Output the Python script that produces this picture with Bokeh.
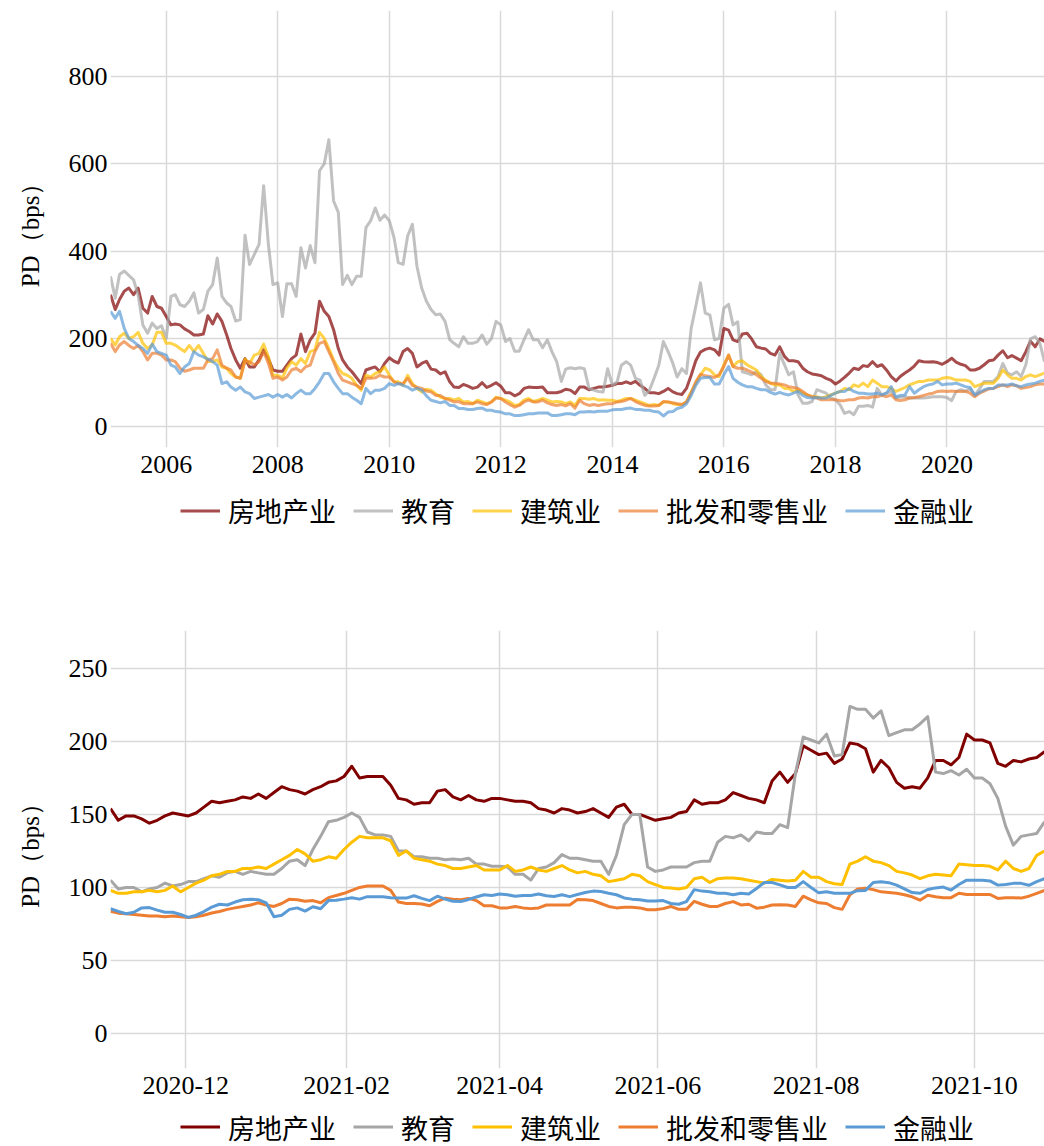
import numpy as np
import pandas as pd
from bokeh.plotting import figure
from bokeh.models import (ColumnDataSource, FixedTicker, DatetimeTickFormatter,
                          Legend, LegendItem, Range1d)
from bokeh.layouts import column
from bokeh.embed import file_html
from bokeh.resources import INLINE

# ---------------- data ----------------
names = ["房地产业", "教育", "建筑业", "批发和零售业", "金融业"]
colors = ["#800000", "#a6a6a6", "#ffc000", "#ed7d31", "#5b9bd5"]

# Top panel: monthly, 2005-01 .. 2021-10
top_start = "2005-01-01"
top_months = 202

real_estate_m = [
    301, 267, 290, 309, 316, 301, 316, 270, 259, 297, 274, 270,
    251, 232, 234, 232, 223, 217, 209, 209, 211, 253, 234, 257,
    240, 209, 178, 152, 133, 155, 136, 136, 152, 175, 155, 129,
    126, 126, 140, 155, 163, 211, 171, 198, 213, 286, 263, 251,
    221, 178, 152, 136, 125, 111, 98, 129, 133, 136, 125, 144,
    157, 149, 145, 171, 178, 167, 136, 144, 149, 131, 129, 120,
    125, 102, 90, 89, 96, 92, 87, 90, 100, 89, 94, 100,
    92, 77, 77, 70, 75, 87, 90, 89, 89, 90, 77, 77,
    77, 80, 85, 83, 75, 90, 90, 84, 87, 90, 90, 92,
    94, 98, 98, 102, 98, 103, 94, 87, 77, 77, 75, 80,
    87, 79, 75, 73, 87, 117, 150, 170, 176, 179, 175, 163,
    224, 220, 198, 194, 211, 213, 200, 182, 179, 177, 167, 163,
    182, 160, 150, 150, 148, 133, 125, 120, 118, 116, 110, 106,
    97, 104, 112, 122, 133, 130, 139, 137, 148, 137, 141, 129,
    114, 104, 114, 122, 129, 138, 150, 148, 147, 148, 146, 142,
    148, 156, 147, 142, 139, 129, 129, 133, 141, 150, 152, 163,
    173, 157, 162, 156, 150, 171, 195, 182, 200, 194]

education_m = [
    343, 293, 347, 355, 345, 335, 300, 232, 213, 236, 224, 230,
    201, 297, 301, 278, 274, 286, 305, 259, 267, 309, 324, 385,
    297, 282, 274, 241, 244, 437, 370, 393, 416, 550, 416, 324,
    328, 251, 326, 326, 297, 408, 362, 413, 374, 584, 600, 655,
    515, 489, 324, 345, 324, 343, 343, 454, 470, 499, 471, 483,
    470, 431, 374, 370, 435, 462, 366, 316, 286, 267, 255, 257,
    240, 198, 190, 182, 205, 190, 190, 194, 209, 188, 201, 240,
    232, 194, 201, 172, 172, 198, 221, 198, 198, 180, 198, 171,
    148, 103, 131, 134, 132, 134, 132, 87, 83, 80, 79, 132,
    94, 102, 140, 148, 140, 110, 106, 71, 83, 110, 140, 194,
    171, 144, 113, 132, 121, 224, 274, 328, 259, 255, 198, 201,
    270, 279, 232, 239, 125, 122, 118, 125, 118, 95, 84, 84,
    167, 141, 118, 125, 72, 53, 53, 57, 84, 80, 76, 65,
    61, 49, 30, 34, 27, 46, 46, 48, 44, 87, 72, 76,
    80, 65, 67, 68, 65, 65, 65, 65, 66, 68, 68, 68,
    66, 59, 80, 84, 81, 86, 71, 86, 103, 103, 103, 114,
    144, 122, 118, 125, 114, 141, 200, 205, 190, 148]

construction_m = [
    201, 186, 205, 213, 201, 205, 215, 190, 178, 186, 215, 215,
    190, 190, 186, 178, 171, 185, 171, 185, 167, 149, 148, 152,
    136, 133, 121, 113, 110, 154, 144, 163, 167, 188, 159, 117,
    117, 111, 133, 148, 140, 155, 144, 171, 175, 215, 201, 178,
    152, 133, 121, 117, 110, 94, 83, 117, 113, 121, 125, 136,
    117, 102, 102, 94, 117, 98, 87, 79, 85, 83, 75, 67,
    64, 64, 60, 64, 56, 57, 52, 60, 56, 52, 56, 67,
    64, 60, 56, 48, 50, 60, 64, 57, 60, 64, 60, 56,
    57, 56, 52, 56, 48, 64, 64, 62, 64, 60, 61, 60,
    60, 57, 60, 64, 64, 60, 56, 52, 48, 50, 48, 56,
    56, 52, 50, 50, 56, 79, 98, 118, 133, 129, 118, 114,
    141, 163, 137, 148, 150, 141, 135, 129, 114, 106, 99, 95,
    95, 87, 87, 80, 84, 76, 72, 68, 68, 65, 68, 72,
    76, 80, 87, 84, 95, 91, 99, 91, 106, 99, 91, 91,
    87, 80, 84, 89, 95, 99, 103, 103, 106, 106, 106, 110,
    112, 110, 106, 106, 106, 103, 91, 95, 99, 99, 99, 110,
    129, 118, 110, 110, 106, 114, 118, 114, 118, 122]

retail_m = [
    190, 171, 186, 194, 185, 178, 185, 171, 152, 167, 167, 163,
    152, 152, 148, 133, 126, 129, 133, 133, 133, 152, 155, 175,
    140, 133, 129, 113, 110, 149, 148, 141, 148, 171, 144, 110,
    113, 106, 113, 129, 133, 125, 136, 140, 171, 190, 194, 171,
    148, 121, 106, 102, 98, 94, 87, 110, 110, 111, 117, 113,
    113, 102, 98, 98, 110, 94, 90, 87, 81, 79, 71, 71,
    64, 60, 56, 57, 52, 52, 52, 56, 52, 50, 56, 65,
    64, 56, 50, 44, 48, 56, 60, 56, 56, 60, 54, 50,
    48, 50, 47, 52, 42, 60, 52, 48, 50, 48, 50, 52,
    52, 56, 57, 60, 64, 57, 52, 48, 47, 47, 48, 57,
    56, 54, 52, 50, 56, 77, 102, 119, 116, 114, 112, 118,
    137, 163, 137, 133, 133, 129, 124, 118, 110, 103, 99, 99,
    97, 95, 91, 89, 87, 80, 72, 68, 65, 61, 61, 61,
    61, 59, 59, 61, 61, 65, 66, 65, 68, 68, 71, 68,
    72, 61, 59, 61, 65, 66, 68, 71, 74, 76, 80, 81,
    80, 81, 80, 80, 80, 76, 68, 76, 81, 86, 87, 91,
    95, 91, 95, 93, 87, 89, 91, 95, 97, 97]

finance_m = [
    263, 247, 263, 224, 201, 194, 185, 178, 167, 188, 171, 167,
    163, 140, 136, 121, 136, 144, 171, 163, 159, 154, 148, 140,
    98, 102, 90, 83, 90, 79, 75, 64, 67, 70, 73, 67,
    73, 67, 73, 65, 75, 83, 75, 75, 87, 102, 121, 121,
    102, 87, 75, 75, 67, 60, 52, 87, 75, 83, 83, 87,
    98, 94, 98, 94, 90, 83, 87, 83, 70, 60, 57, 54,
    57, 48, 48, 41, 41, 39, 39, 41, 42, 37, 37, 34,
    33, 29, 29, 25, 25, 27, 29, 29, 31, 31, 31, 25,
    25, 27, 29, 29, 27, 33, 33, 34, 33, 35, 35, 35,
    38, 39, 39, 41, 42, 39, 39, 37, 37, 34, 33, 24,
    33, 34, 41, 44, 52, 71, 94, 110, 112, 112, 97, 97,
    118, 137, 110, 101, 95, 91, 91, 87, 84, 84, 78, 74,
    78, 74, 72, 76, 80, 71, 66, 65, 66, 65, 65, 71,
    76, 80, 80, 87, 80, 76, 76, 74, 74, 76, 72, 76,
    91, 67, 71, 72, 91, 76, 84, 91, 95, 97, 103, 95,
    97, 97, 99, 95, 91, 89, 72, 78, 84, 87, 87, 95,
    95, 95, 97, 93, 91, 95, 97, 99, 103, 106]

# Bottom panel: every 3 days from 2020-11-02 to 2021-10-28
bot_start = "2020-11-02"
bot_step_days = 3
bot_points = 121

real_estate_d = [
    154, 146, 149, 149, 147, 144, 146, 149, 151, 150,
    149, 151, 155, 159, 158, 159, 160, 162, 161, 164,
    161, 165, 169, 167, 166, 164, 167, 169, 172, 173,
    176, 183, 175, 176, 176, 176, 170, 161, 160, 157,
    158, 158, 166, 167, 162, 160, 163, 160, 159, 161,
    161, 160, 159, 159, 158, 154, 153, 151, 154, 153,
    151, 152, 154, 151, 148, 155, 157, 150, 150, 148,
    146, 147, 148, 151, 152, 160, 157, 158, 158, 160,
    165, 163, 161, 160, 158, 173, 179, 172, 178, 197,
    194, 191, 192, 185, 188, 199, 198, 195, 179, 187,
    182, 172, 168, 169, 168, 175, 187, 187, 184, 189,
    205, 201, 201, 199, 185, 183, 187, 186, 188, 189,
    193]

education_d = [
    105, 99, 100, 100, 97, 99, 100, 103, 101, 102,
    104, 104, 106, 108, 107, 110, 111, 109, 111, 110,
    109, 109, 113, 118, 119, 115, 126, 135, 145, 146,
    148, 151, 148, 138, 136, 136, 135, 125, 125, 121,
    121, 120, 120, 119, 119.5, 119, 120, 116, 116, 114.5,
    114.5, 114, 109, 109, 105, 113, 114, 117, 122.5, 120,
    120, 119, 118, 118, 109, 122, 143, 150, 150, 114,
    111, 112, 114, 114, 114, 117, 118, 118, 131, 135,
    134, 136, 132, 138, 137, 137, 143, 141, 178, 203,
    201, 199, 205, 190, 191, 224, 222, 222, 216, 221,
    204, 206, 208, 208, 212, 217, 179, 178, 180, 177,
    181, 175, 175, 171, 161, 142, 129, 135, 136, 137,
    145]

construction_d = [
    98, 96, 96, 97, 97, 98, 97, 98, 101, 97,
    100, 103, 105, 108, 109, 111, 111, 113, 113, 114,
    113, 116, 119, 122, 126, 123, 118, 119, 121, 120,
    126, 131, 135, 134, 134, 134, 132, 122, 125, 120,
    119, 118, 116, 115, 113, 113, 114, 115, 112, 112,
    112, 115, 111, 112, 114, 112, 111, 113, 115, 112,
    110, 111, 109, 108, 104, 105, 106, 109, 108, 104,
    102, 100, 99.6, 99, 100, 106, 107, 103.4, 106, 106.5,
    106.5, 106, 105, 104, 103, 105.5, 105, 104.5, 105, 111,
    107, 107, 104, 102.5, 102, 116, 118, 121, 118, 117,
    115, 111, 110, 108.5, 106, 108, 109, 108.5, 108, 116,
    115.5, 115, 115, 114.5, 112, 118, 113, 111, 113, 122,
    125]

retail_d = [
    83.6, 82.4, 82, 81.5, 81, 80.5, 80.5, 80, 80.5, 80,
    79.5, 80, 81, 82.5, 83.5, 85, 86, 87, 88, 89.5,
    88, 87, 89, 92, 91.6, 90.5, 91, 89.5, 93, 94.5,
    96, 98, 100, 101, 101, 101, 98, 90, 89, 89,
    88.7, 87.5, 90.5, 92.7, 92, 91.6, 92.5, 91, 87.5, 87.5,
    86, 86, 87, 86, 85.5, 86, 88, 88, 88, 88,
    91.8, 91.6, 91, 89, 87, 86, 86.5, 86.5, 86, 84.7,
    84.7, 85.5, 87, 85, 85, 90.5, 88.5, 87, 87, 89,
    90.3, 88, 88.5, 85.8, 86.5, 88, 88.1, 88, 87, 94,
    91.5, 89.5, 89, 86.2, 85, 95, 99, 99.5, 98.5, 97,
    96.5, 96, 95, 93.6, 91.3, 94.7, 93.6, 93, 93, 96,
    95.2, 95.2, 95.2, 95.2, 92.5, 93, 93, 92.7, 94, 96,
    98]

finance_d = [
    85.4, 83.6, 82, 83, 86, 86.2, 84.5, 83, 83, 81.5,
    79.5, 81, 83.5, 86.5, 88.5, 88, 90, 91.6, 92, 91.6,
    89.5, 80, 81, 85, 86, 83.8, 86.8, 85.4, 91, 91.2,
    92, 93, 92, 93.7, 93.7, 93.7, 93, 92.7, 92.7, 94.3,
    92.5, 91, 94, 92, 90.5, 90.3, 91.8, 93.5, 95, 94.5,
    95.5, 95, 94, 94.5, 94.5, 95.5, 94.3, 93.8, 95, 93.7,
    95.2, 96.5, 97.5, 97.2, 96, 95, 92.8, 92, 91.6, 90.8,
    90.7, 91, 89, 88.5, 90.3, 98.5, 97.5, 97, 96, 96,
    95, 96, 95.5, 99.3, 103.4, 103.4, 101.8, 100, 100, 104,
    100, 96.3, 97, 96, 96, 96, 97.8, 98, 103.4, 103.9,
    103.3, 101.6, 99, 96.5, 96, 98.6, 99.7, 100.3, 98.2, 102,
    105, 105, 105, 104.5, 101.6, 102, 102.8, 102.8, 101.5, 104,
    106]

top_xticks = ["2006-01-01", "2008-01-01", "2010-01-01", "2012-01-01",
              "2014-01-01", "2016-01-01", "2018-01-01", "2020-01-01"]
top_yticks = [0, 200, 400, 600, 800]
bot_xticks = ["2020-12-01", "2021-02-01", "2021-04-01", "2021-06-01",
              "2021-08-01", "2021-10-01"]
bot_yticks = [0, 50, 100, 150, 200, 250]

top_series = [real_estate_m, education_m, construction_m, retail_m, finance_m]
bot_series = [real_estate_d, education_d, construction_d, retail_d, finance_d]

# ---------------- build ----------------
def ms(s):
    return pd.Timestamp(s).value // 10**6

TICK_FONT = "Liberation Serif"
CJK_FONT = "Noto Sans CJK SC"
LINE_W = 3


def make_panel(dates, series, alpha, x0, x1, y0, y1, xticks, yticks,
               height, top_border, bottom_border):
    src = {"date": dates}
    for i, s in enumerate(series):
        src[f"s{i}"] = s
    source = ColumnDataSource(src)

    p = figure(width=1044, height=height, x_axis_type="datetime",
               x_range=Range1d(pd.Timestamp(x0), pd.Timestamp(x1)),
               y_range=Range1d(y0, y1),
               output_backend="svg", toolbar_location=None,
               min_border_left=110, min_border_right=0,
               min_border_top=top_border, min_border_bottom=bottom_border)
    p.outline_line_color = None
    p.background_fill_color = "white"
    p.border_fill_color = "white"

    for i, c in enumerate(colors):
        p.line("date", f"s{i}", source=source, line_color=c,
               line_alpha=alpha, line_width=LINE_W, line_join="round")

    p.xaxis.ticker = FixedTicker(ticks=[ms(t) for t in xticks])
    p.xaxis.formatter = DatetimeTickFormatter(years="%Y", months="%Y-%m",
                                              days="%Y-%m")
    p.yaxis.ticker = FixedTicker(ticks=yticks)

    for ax in (p.xaxis[0], p.yaxis[0]):
        ax.axis_line_color = None
        ax.major_tick_line_color = None
        ax.minor_tick_line_color = None
        ax.major_tick_out = 0
        ax.major_tick_in = 0
        ax.minor_tick_out = 0
        ax.major_label_text_font = TICK_FONT
        ax.major_label_text_font_size = "26px"
        ax.major_label_text_color = "black"
    p.xaxis.major_label_standoff = 8
    p.yaxis.major_label_standoff = 3

    p.yaxis.axis_label = "PD（bps）"
    p.yaxis.axis_label_text_font = TICK_FONT
    p.yaxis.axis_label_text_font_size = "25px"
    p.yaxis.axis_label_text_font_style = "normal"
    p.yaxis.axis_label_text_color = "black"
    p.yaxis.axis_label_standoff = 22

    p.xgrid.grid_line_color = "#d9d9d9"
    p.ygrid.grid_line_color = "#d9d9d9"
    p.xgrid.grid_line_width = 1.5
    p.ygrid.grid_line_width = 1.5
    return p


def make_legend_strip(alpha, height):
    """A thin strip holding only the legend, placed under a chart."""
    q = figure(width=1044, height=height, output_backend="svg",
               toolbar_location=None, x_range=Range1d(0, 1), y_range=Range1d(0, 1),
               min_border_left=110, min_border_right=0,
               min_border_top=0, min_border_bottom=0)
    q.axis.visible = False
    q.grid.visible = False
    q.outline_line_color = None
    q.background_fill_color = "white"
    q.border_fill_color = "white"
    items = []
    for n, c in zip(names, colors):
        # legend-only renderer: a single missing point, nothing is drawn
        r = q.line(x=[np.nan], y=[np.nan], line_color=c, line_alpha=alpha,
                   line_width=LINE_W)
        items.append(LegendItem(label=n, renderers=[r]))
    legend = Legend(
        items=items, orientation="horizontal", location="center",
        glyph_width=40, glyph_height=20, label_standoff=8, spacing=17,
        padding=0, margin=0, border_line_color=None,
        background_fill_alpha=0,
        label_text_font=CJK_FONT, label_text_font_size="27px",
        label_text_color="black")
    q.add_layout(legend)
    return q


top_dates = pd.date_range(top_start, periods=top_months, freq="MS")
bot_dates = pd.date_range(bot_start, periods=bot_points, freq=f"{bot_step_days}D")

# page rows: p1 0-490, leg1 490-530, p2 530-1107, leg2 1107-1146
p1 = make_panel(top_dates, top_series, 0.7, "2005-01-01", "2021-10-01",
                -48, 950, top_xticks, top_yticks,
                height=490, top_border=10, bottom_border=43)
leg1 = make_legend_strip(0.7, 40)
p2 = make_panel(bot_dates, bot_series, 1.0, "2020-11-02", "2021-10-28",
                -24, 276, bot_xticks, bot_yticks,
                height=577, top_border=100, bottom_border=39)
leg2 = make_legend_strip(1.0, 39)

layout = column(p1, leg1, p2, leg2, spacing=0)
open("out.html", "w").write(file_html(layout, INLINE))
